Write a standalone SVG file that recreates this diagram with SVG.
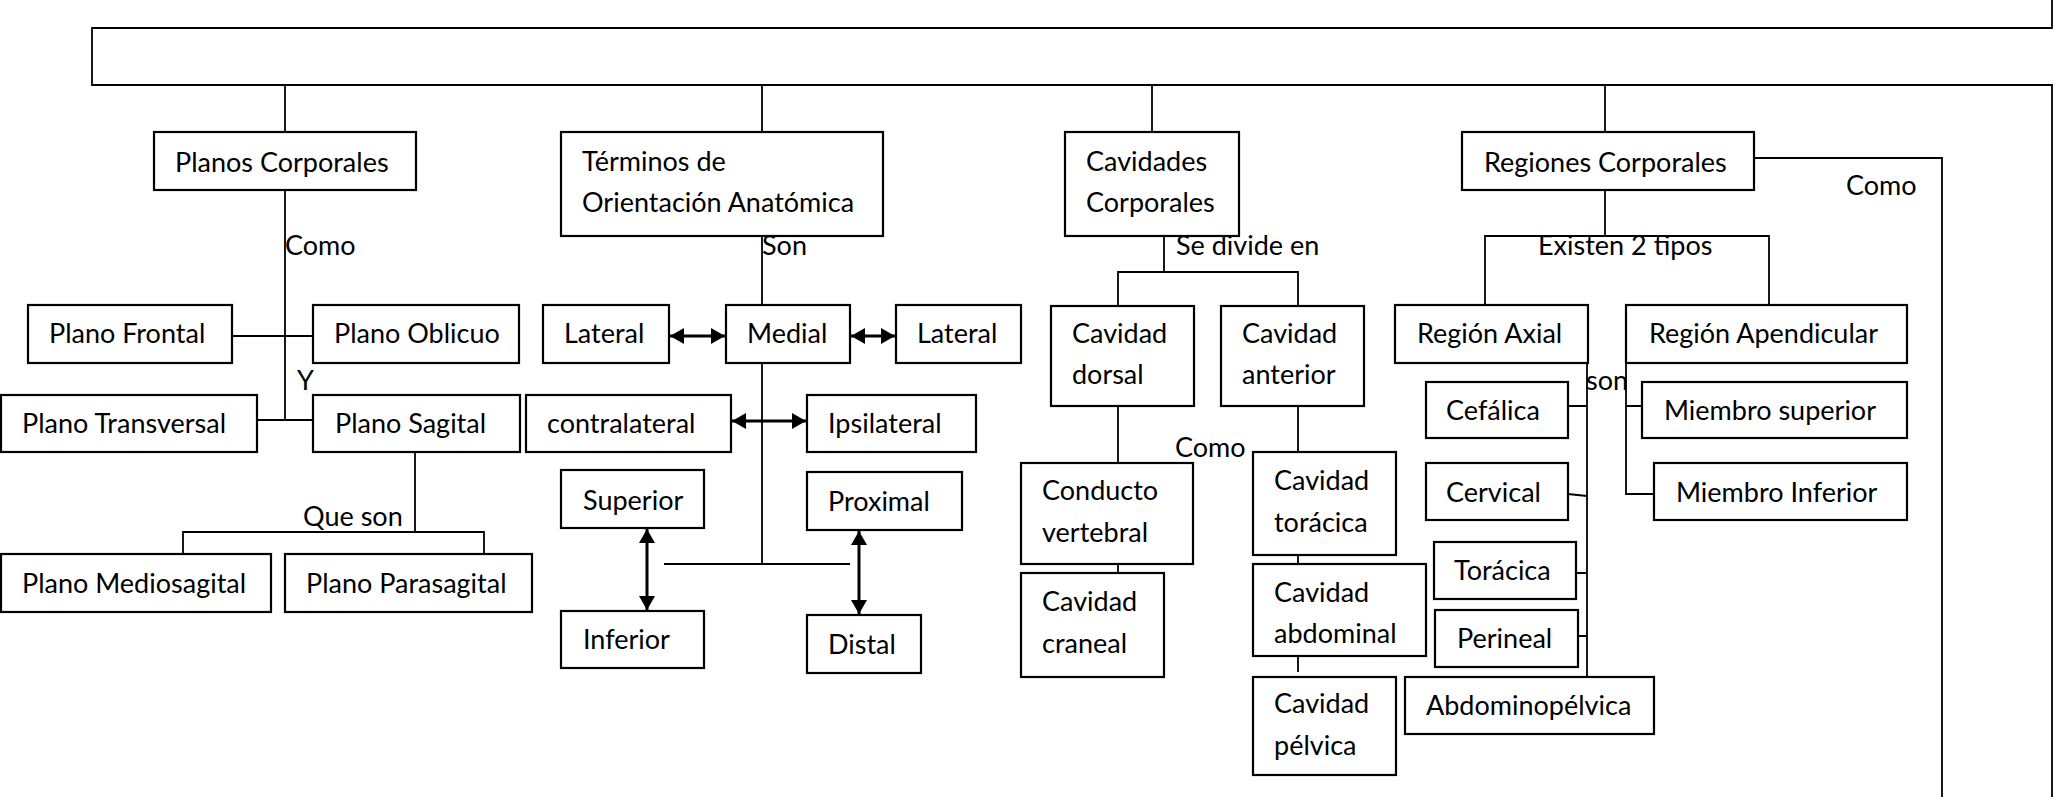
<svg xmlns="http://www.w3.org/2000/svg" width="2066" height="797" viewBox="0 0 2066 797">
<style>
.box{fill:#fff;stroke:#000;stroke-width:2.2}
.t{font-family:Lato,"Liberation Sans",sans-serif;font-size:27px;fill:#000}
.c{fill:none;stroke:#000;stroke-width:1.8}
.a{fill:none;stroke:#000;stroke-width:3;marker-start:url(#ah);marker-end:url(#ah)}
</style>
<defs>
<marker id="ah" markerUnits="userSpaceOnUse" markerWidth="15" markerHeight="16" refX="14" refY="8" orient="auto-start-reverse" viewBox="0 0 15 16">
<path d="M0,0 L14,8 L0,16 Z" fill="#000"/>
</marker>
</defs>
<rect width="2066" height="797" fill="#fff"/>
<g id="connectors">
<path class="c" d="M2052,0 V28 H92 V85 H2052 V797"/>
<path class="c" d="M285,85 V132 M762,85 V132 M1152,85 V132 M1605,85 V132"/>
<path class="c" d="M285,190 V420 M232,336 H313 M257,420 H313"/>
<path class="c" d="M415,452 V532 M183,554 V532 H484 V554"/>
<path class="c" d="M762,236 V305 M762,363 V564 M664,564 H850"/>
<path class="c" d="M1164,236 V272 M1118,306 V272 H1298 V306"/>
<path class="c" d="M1118,406 V463 M1118,564 V573"/>
<path class="c" d="M1298,406 V452 M1298,555 V564 M1298,656 V672"/>
<path class="c" d="M1605,190 V236 M1485,305 V236 H1769 V305"/>
<path class="c" d="M1754,158 H1942 V797"/>
<path class="c" d="M1587,363 V677 M1568,406 H1587 M1568,494 L1587,496 M1576,573 H1587 M1578,636 H1587"/>
<path class="c" d="M1626,363 V494 H1654 M1626,406 H1642"/>
<line class="a" x1="670" y1="336" x2="725" y2="336"/>
<line class="a" x1="851" y1="336" x2="895" y2="336"/>
<line class="a" x1="732" y1="421" x2="806" y2="421"/>
<line class="a" x1="647" y1="529" x2="647" y2="610"/>
<line class="a" x1="859" y1="531" x2="859" y2="614"/>
</g>
<g id="n-planos"><rect class="box" x="154" y="132" width="262" height="58"/><text class="t" x="175" y="172">Planos Corporales</text></g>
<g id="n-terminos"><rect class="box" x="561" y="132" width="322" height="104"/><text class="t" x="582" y="171">Términos de</text><text class="t" x="582" y="212">Orientación Anatómica</text></g>
<g id="n-cavidades"><rect class="box" x="1065" y="132" width="174" height="104"/><text class="t" x="1086" y="171">Cavidades</text><text class="t" x="1086" y="212">Corporales</text></g>
<g id="n-regiones"><rect class="box" x="1462" y="132" width="292" height="58"/><text class="t" x="1484" y="172">Regiones Corporales</text></g>
<g id="n-frontal"><rect class="box" x="28" y="305" width="204" height="58"/><text class="t" x="49" y="343">Plano Frontal</text></g>
<g id="n-oblicuo"><rect class="box" x="313" y="305" width="206" height="58"/><text class="t" x="334" y="343">Plano Oblicuo</text></g>
<g id="n-transversal"><rect class="box" x="1" y="395" width="256" height="57"/><text class="t" x="22" y="433">Plano Transversal</text></g>
<g id="n-sagital"><rect class="box" x="313" y="395" width="207" height="57"/><text class="t" x="335" y="433">Plano Sagital</text></g>
<g id="n-mediosagital"><rect class="box" x="1" y="554" width="270" height="58"/><text class="t" x="22" y="593">Plano Mediosagital</text></g>
<g id="n-parasagital"><rect class="box" x="285" y="554" width="247" height="58"/><text class="t" x="306" y="593">Plano Parasagital</text></g>
<g id="n-lateral1"><rect class="box" x="543" y="305" width="126" height="58"/><text class="t" x="564" y="343">Lateral</text></g>
<g id="n-medial"><rect class="box" x="726" y="305" width="124" height="58"/><text class="t" x="747" y="343">Medial</text></g>
<g id="n-lateral2"><rect class="box" x="896" y="305" width="125" height="58"/><text class="t" x="917" y="343">Lateral</text></g>
<g id="n-contralateral"><rect class="box" x="526" y="395" width="205" height="57"/><text class="t" x="547" y="433">contralateral</text></g>
<g id="n-ipsilateral"><rect class="box" x="807" y="395" width="169" height="57"/><text class="t" x="828" y="433">Ipsilateral</text></g>
<g id="n-superior"><rect class="box" x="561" y="470" width="143" height="58"/><text class="t" x="583" y="510">Superior</text></g>
<g id="n-proximal"><rect class="box" x="807" y="472" width="155" height="58"/><text class="t" x="828" y="511">Proximal</text></g>
<g id="n-inferior"><rect class="box" x="561" y="611" width="143" height="57"/><text class="t" x="583" y="649">Inferior</text></g>
<g id="n-distal"><rect class="box" x="807" y="615" width="114" height="58"/><text class="t" x="828" y="654">Distal</text></g>
<g id="n-dorsal"><rect class="box" x="1051" y="306" width="143" height="100"/><text class="t" x="1072" y="343">Cavidad</text><text class="t" x="1072" y="384">dorsal</text></g>
<g id="n-anterior"><rect class="box" x="1221" y="306" width="143" height="100"/><text class="t" x="1242" y="343">Cavidad</text><text class="t" x="1242" y="384">anterior</text></g>
<g id="n-conducto"><rect class="box" x="1021" y="463" width="172" height="101"/><text class="t" x="1042" y="500">Conducto</text><text class="t" x="1042" y="542">vertebral</text></g>
<g id="n-craneal"><rect class="box" x="1021" y="573" width="143" height="104"/><text class="t" x="1042" y="611">Cavidad</text><text class="t" x="1042" y="653">craneal</text></g>
<g id="n-toracica-cav"><rect class="box" x="1253" y="452" width="143" height="103"/><text class="t" x="1274" y="490">Cavidad</text><text class="t" x="1274" y="532">torácica</text></g>
<g id="n-abdominal"><rect class="box" x="1253" y="564" width="173" height="92"/><text class="t" x="1274" y="602">Cavidad</text><text class="t" x="1274" y="643">abdominal</text></g>
<g id="n-pelvica"><rect class="box" x="1253" y="677" width="143" height="98"/><text class="t" x="1274" y="713">Cavidad</text><text class="t" x="1274" y="755">pélvica</text></g>
<g id="n-axial"><rect class="box" x="1395" y="305" width="193" height="58"/><text class="t" x="1417" y="343">Región Axial</text></g>
<g id="n-apendicular"><rect class="box" x="1626" y="305" width="281" height="58"/><text class="t" x="1649" y="343">Región Apendicular</text></g>
<g id="n-cefalica"><rect class="box" x="1426" y="382" width="142" height="56"/><text class="t" x="1446" y="420">Cefálica</text></g>
<g id="n-cervical"><rect class="box" x="1426" y="463" width="142" height="57"/><text class="t" x="1446" y="502">Cervical</text></g>
<g id="n-toracica"><rect class="box" x="1434" y="542" width="142" height="57"/><text class="t" x="1454" y="580">Torácica</text></g>
<g id="n-perineal"><rect class="box" x="1435" y="610" width="143" height="57"/><text class="t" x="1457" y="648">Perineal</text></g>
<g id="n-abdominopelvica"><rect class="box" x="1405" y="677" width="249" height="57"/><text class="t" x="1426" y="715">Abdominopélvica</text></g>
<g id="n-msuperior"><rect class="box" x="1642" y="382" width="265" height="56"/><text class="t" x="1664" y="420">Miembro superior</text></g>
<g id="n-minferior"><rect class="box" x="1654" y="463" width="253" height="57"/><text class="t" x="1676" y="502">Miembro Inferior</text></g>
<g id="labels">
<text class="t" x="285" y="255">Como</text>
<text class="t" x="297" y="390">Y</text>
<text class="t" x="303" y="526">Que son</text>
<text class="t" x="762" y="255">Son</text>
<text class="t" x="1176" y="255">Se divide en</text>
<text class="t" x="1175" y="457">Como</text>
<text class="t" x="1538" y="255">Existen 2 tipos</text>
<text class="t" x="1846" y="195">Como</text>
<text class="t" x="1586" y="390">son</text>
</g>
</svg>
